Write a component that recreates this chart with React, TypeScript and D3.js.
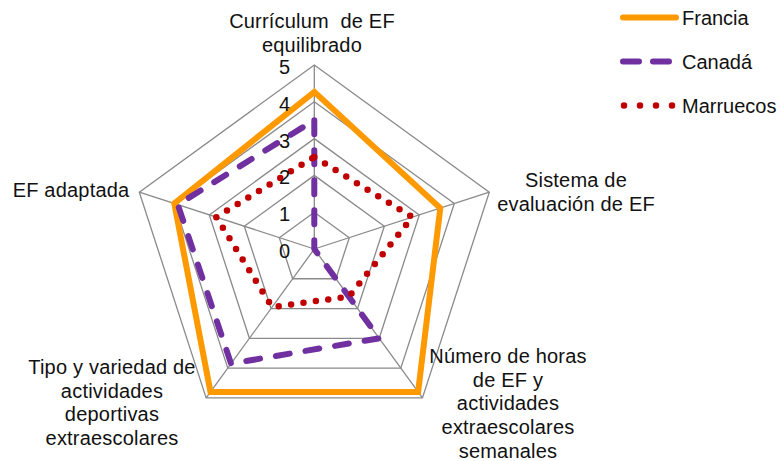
import * as d3 from "d3";

const axes = [
  ["Currículum  de EF", "equilibrado"],
  ["Sistema de", "evaluación de EF"],
  ["Número de horas", "de EF y", "actividades", "extraescolares", "semanales"],
  ["Tipo y variedad de", "actividades", "deportivas", "extraescolares"],
  ["EF adaptada"],
];
const ticks = [0, 1, 2, 3, 4, 5];
const seriesNames = ["Francia", "Canadá", "Marruecos"];
const francia = [4.27, 3.6, 4.8, 4.8, 4.0];
const canada = [3.5, 0, 3.0, 3.85, 3.9];
const marruecos = [2.5, 2.8, 1.6, 1.95, 2.8];

// where the axis titles sit (anchor middle, first baseline)
const labelPos = [
  { x: 312, y: 28 },
  { x: 576, y: 187 },
  { x: 508, y: 363 },
  { x: 112, y: 374 },
  { x: 71, y: 197 },
];

const styles = [
  { color: "#FF9900", width: 6, dash: "none" },
  { color: "#7030A0", width: 6, dash: "14 16" },
  { color: "#C00000", width: 6.5, dash: "0 12.5" },
];

const App = () => {
  const width = 781;
  const height = 461;
  const cx = 314.3;
  const cy = 249;
  const font = "'Liberation Sans', Arial, sans-serif";

  const r = d3.scaleLinear().domain([0, 5]).range([0, 184]);
  const angle = d3
    .scaleLinear()
    .domain([0, axes.length])
    .range([0, 2 * Math.PI]);

  const pt = (i: number, v: number) => {
    const a = angle(i) - Math.PI / 2;
    return [cx + r(v) * Math.cos(a), cy + r(v) * Math.sin(a)];
  };

  const radial = d3
    .lineRadial<number>()
    .angle((_, i) => angle(i))
    .radius((d) => r(d))
    .curve(d3.curveLinearClosed);

  const data = [francia, canada, marruecos];

  return (
    <svg
      width={width}
      height={height}
      style={{ position: "absolute", left: 0, top: 0 }}
      fontFamily={font}
      fontSize={20}
    >
      <rect width={width} height={height} fill="#fff" />
      <g>
        {ticks.slice(1).map((t) => (
          <path
            key={t}
            d={radial(axes.map(() => t)) || ""}
            transform={`translate(${cx},${cy})`}
            fill="none"
            stroke="#8a8a8a"
            strokeWidth={1.3}
          />
        ))}
        {axes.map((_, i) => {
          const [x, y] = pt(i, 5);
          return (
            <line
              key={i}
              x1={cx}
              y1={cy}
              x2={x}
              y2={y}
              stroke="#8a8a8a"
              strokeWidth={1.3}
            />
          );
        })}
      </g>

      {data.map((d, s) => (
        <path
          key={seriesNames[s]}
          d={radial(d) || ""}
          transform={`translate(${cx},${cy})`}
          fill="none"
          stroke={styles[s].color}
          strokeWidth={styles[s].width}
          strokeDasharray={styles[s].dash}
          strokeLinecap={s === 0 ? "butt" : "round"}
          strokeLinejoin={s === 0 ? "miter" : "round"}
        />
      ))}

      {ticks.map((t) => (
        <text
          key={t}
          x={290}
          y={cy - r(t) + 9}
          textAnchor="end"
          fill="#111"
        >
          {t}
        </text>
      ))}

      {axes.map((lines, i) => (
        <text
          key={i}
          x={labelPos[i].x}
          y={labelPos[i].y}
          textAnchor="middle"
          fill="#111"
          letterSpacing={0.2}
          style={{ whiteSpace: "pre" }}
        >
          {lines.map((l, j) => (
            <tspan key={j} x={labelPos[i].x} dy={j === 0 ? 0 : 23.7}>
              {l}
            </tspan>
          ))}
        </text>
      ))}

      {seriesNames.map((name, s) => {
        const y = 17.5 + s * 44;
        return (
          <g key={name}>
            <line
              x1={s === 2 ? 624 : 623}
              x2={676}
              y1={y}
              y2={y}
              stroke={styles[s].color}
              strokeWidth={styles[s].width}
              strokeDasharray={s === 1 ? "16 14" : s === 2 ? "0 16" : "none"}
              strokeLinecap="round"
            />
            <text x={682} y={y + 7} fill="#111">
              {name}
            </text>
          </g>
        );
      })}
    </svg>
  );
};

export default App;
